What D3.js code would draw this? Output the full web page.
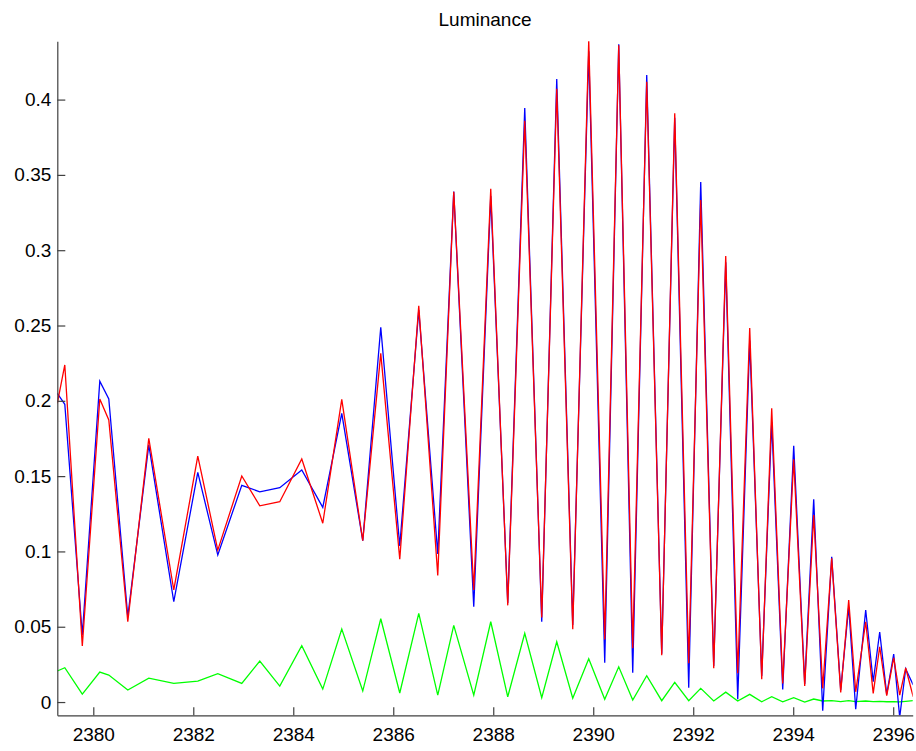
<!DOCTYPE html>
<html>
<head>
<meta charset="utf-8">
<script src="https://cdn.jsdelivr.net/npm/d3@7"></script>
<style>
  html, body { margin: 0; padding: 0; background: #fff; }
  svg { display: block; font-family: "Liberation Sans", Arial, Helvetica, sans-serif; }
</style>
</head>
<body>
<svg id="chart" width="916" height="751"></svg>
<script>
const title = "Luminance";

const times = [
  2379.28, 2379.43, 2379.78, 2380.13, 2380.31, 2380.69, 2381.11, 2381.61, 2382.09, 2382.49,
  2382.97, 2383.33, 2383.73, 2384.17, 2384.59, 2384.97, 2385.39, 2385.75, 2386.13, 2386.51,
  2386.89, 2387.21, 2387.61, 2387.95, 2388.29, 2388.63, 2388.97, 2389.27, 2389.59, 2389.91,
  2390.23, 2390.51, 2390.79, 2391.07, 2391.37, 2391.63, 2391.91, 2392.15, 2392.41, 2392.65,
  2392.89, 2393.13, 2393.37, 2393.57, 2393.79, 2394.01, 2394.23, 2394.41, 2394.59, 2394.77,
  2394.95, 2395.11, 2395.25, 2395.45, 2395.60, 2395.73, 2395.87, 2396.01, 2396.13, 2396.25,
  2396.40
];

const blueValues = [
  0.2050, 0.1977, 0.0445, 0.2131, 0.2012, 0.0566, 0.1707, 0.0666, 0.1525, 0.0976,
  0.1439, 0.1396, 0.1423, 0.1541, 0.1293, 0.1917, 0.1071, 0.2488, 0.1036, 0.2603,
  0.0983, 0.3390, 0.0633, 0.3360, 0.0657, 0.3944, 0.0533, 0.4137, 0.0511, 0.4320,
  0.0261, 0.4367, 0.0195, 0.4163, 0.0320, 0.3880, 0.0095, 0.3453, 0.0240, 0.2920,
  0.0018, 0.2400, 0.0173, 0.1860, 0.0084, 0.1702, 0.0120, 0.1346, -0.0058, 0.0965,
  0.0080, 0.0633, -0.0048, 0.0611, 0.0135, 0.0465, 0.0051, 0.0319, -0.0100, 0.0221,
  0.0113
];

const redValues = [
  0.1983, 0.2238, 0.0372, 0.2012, 0.1873, 0.0533, 0.1751, 0.0744, 0.1633, 0.1009,
  0.1501, 0.1303, 0.1330, 0.1614, 0.1187, 0.2010, 0.1071, 0.2315, 0.0948, 0.2631,
  0.0841, 0.3388, 0.0744, 0.3408, 0.0642, 0.3860, 0.0562, 0.4072, 0.0483, 0.4394,
  0.0416, 0.4361, 0.0357, 0.4119, 0.0310, 0.3909, 0.0257, 0.3333, 0.0224, 0.2961,
  0.0191, 0.2483, 0.0151, 0.1950, 0.0124, 0.1612, 0.0106, 0.1242, 0.0091, 0.0954,
  0.0064, 0.0677, 0.0068, 0.0533, 0.0058, 0.0367, 0.0042, 0.0294, 0.0046, 0.0226,
  0.0035
];

const greenValues = [
  0.0206, 0.0228, 0.0053, 0.0199, 0.0179, 0.0080, 0.0159, 0.0124, 0.0139, 0.0188,
  0.0124, 0.0272, 0.0106, 0.0374, 0.0086, 0.0485, 0.0073, 0.0553, 0.0060, 0.0589,
  0.0046, 0.0509, 0.0046, 0.0533, 0.0035, 0.0456, 0.0029, 0.0400, 0.0025, 0.0288,
  0.0018, 0.0234, 0.0013, 0.0175, 0.0009, 0.0131, 0.0009, 0.0091, 0.0007, 0.0066,
  0.0007, 0.0051, 0.0002, 0.0035, 0.0002, 0.0029, 0.0000, 0.0020, 0.0007, 0.0010,
  0.0003, 0.0009, 0.0003, 0.0007, 0.0003, 0.0005, 0.0002, 0.0003, 0.0001, 0.0005,
  0.0009
];

const xTicks = [2380, 2382, 2384, 2386, 2388, 2390, 2392, 2394, 2396];
const yTicks = [0, 0.05, 0.1, 0.15, 0.2, 0.25, 0.3, 0.35, 0.4];
const xDomain = [2379.28, 2396.39];
const yDomain = [-0.0088, 0.4387];

const plot = { left: 57.3, right: 912.7, top: 41.3, bottom: 715.3 };
const axisColor = "#404040";
const fontSize = 19;

const svg = d3.select("#chart");
const x = d3.scaleLinear().domain(xDomain).range([plot.left, plot.right]);
const y = d3.scaleLinear().domain(yDomain).range([plot.bottom, plot.top]);

svg.append("defs").append("clipPath").attr("id", "plotclip")
  .append("rect")
  .attr("x", plot.left).attr("y", plot.top)
  .attr("width", plot.right - plot.left).attr("height", plot.bottom - plot.top);

const series = [
  { values: greenValues, color: "#00ff00" },
  { values: blueValues, color: "#0000ff" },
  { values: redValues, color: "#ff0000" }
];

const line = d3.line().x(d => x(d[0])).y(d => y(d[1]));
const g = svg.append("g").attr("clip-path", "url(#plotclip)");
series.forEach(s => {
  g.append("path")
    .datum(times.map((t, i) => [t, s.values[i]]))
    .attr("fill", "none")
    .attr("stroke", s.color)
    .attr("stroke-width", 1.3)
    .attr("stroke-linejoin", "miter")
    .attr("d", line);
});

// Axes (MATLAB style, inward ticks)
const xAxis = d3.axisBottom(x).tickValues(xTicks).tickSizeInner(-8).tickSizeOuter(0)
  .tickPadding(14).tickFormat(d3.format("d"));
const gx = svg.append("g").attr("transform", `translate(0,${plot.bottom})`).call(xAxis);

const yAxis = d3.axisLeft(y).tickValues(yTicks).tickSizeInner(-8).tickSizeOuter(0)
  .tickPadding(14).tickFormat(d => String(+d.toFixed(2)));
const gy = svg.append("g").attr("transform", `translate(${plot.left},0)`).call(yAxis);

[gx, gy].forEach(ax => {
  ax.select(".domain").attr("stroke", axisColor).attr("stroke-width", 1.2);
  ax.selectAll(".tick line").attr("stroke", axisColor).attr("stroke-width", 1.2);
  ax.selectAll(".tick text").attr("fill", "#000").style("font-size", fontSize + "px")
    .style("font-family", "'Liberation Sans', Arial, sans-serif");
});
gx.selectAll(".tick text").attr("dy", "0.71em").attr("y", 12);
gy.selectAll(".tick text").attr("x", -6);

svg.append("text")
  .attr("x", (plot.left + plot.right) / 2)
  .attr("y", 26)
  .attr("text-anchor", "middle")
  .style("font-size", "19px")
  .style("font-family", "'Liberation Sans', Arial, sans-serif")
  .attr("fill", "#000")
  .text(title);
</script>
</body>
</html>
